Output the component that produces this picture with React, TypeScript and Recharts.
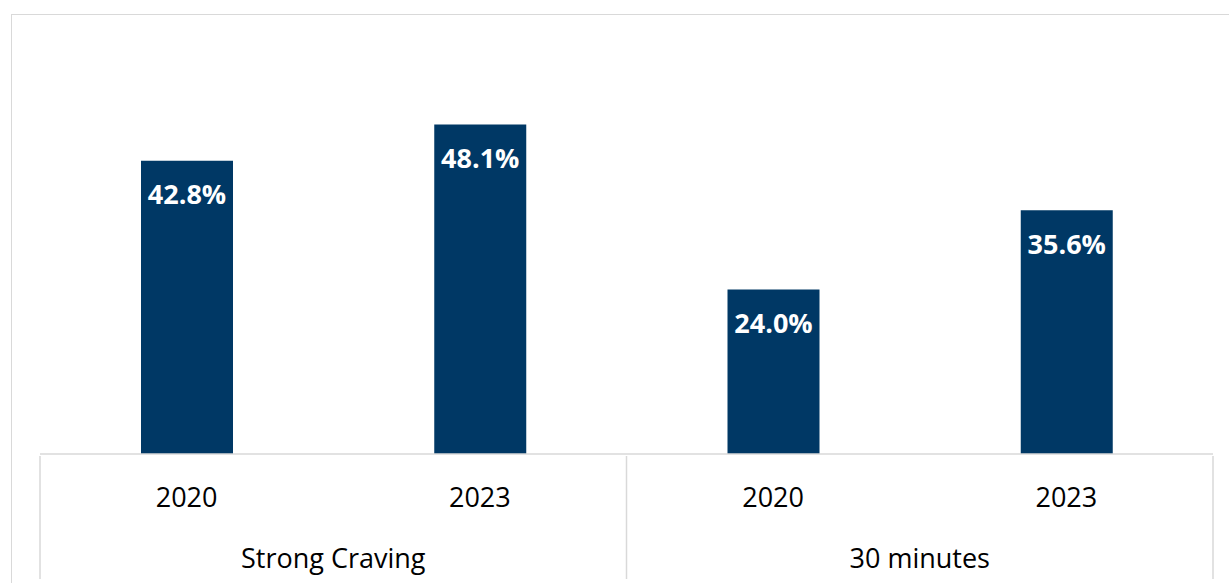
import { Bar, BarChart, LabelList, XAxis, YAxis } from "recharts";

const groups = ["Strong Craving", "Strong Craving", "30 minutes", "30 minutes"];
const years = ["2020", "2023", "2020", "2023"];
const shares = [42.8, 48.1, 24.0, 35.6];

const data = years.map((year, i) => ({ key: `${groups[i]}-${year}`, year, group: groups[i], share: shares[i] }));

const W = 1229;
const H = 583;
const axisHeight = 129;
const margin = { top: 43, right: 16, bottom: 0, left: 40 };
const band = (W - margin.left - margin.right) / data.length;
const gridColor = "#d9d9d9";
const font = "'Open Sans', sans-serif";

function YearTick(props: any) {
  const { x, y, payload } = props;
  const i = payload.index;
  const row = data[i];
  const left = x - band / 2;
  const isGroupStart = i === 0 || groups[i] !== groups[i - 1];
  const isLast = i === data.length - 1;
  return (
    <g>
      <text x={x} y={y + 40} textAnchor="middle" dominantBaseline="central" fontSize={27} fontFamily={font} fill="#000">
        {row.year}
      </text>
      {isGroupStart && <line x1={left} x2={left} y1={y} y2={y + 123} stroke={gridColor} strokeWidth={1.5} />}
      {isLast && <line x1={x + band / 2} x2={x + band / 2} y1={y} y2={y + 123} stroke={gridColor} strokeWidth={1.5} />}
      {isGroupStart && (
        <text x={x + band / 2} y={y + 101} textAnchor="middle" dominantBaseline="central" fontSize={27} fontFamily={font} fill="#000">
          {row.group}
        </text>
      )}
    </g>
  );
}

function ValueLabel(props: any) {
  const { x, y, width, value } = props;
  return (
    <text x={x + width / 2} y={y + 33} textAnchor="middle" dominantBaseline="central" fontSize={27} fontWeight={700} fontFamily={font} fill="#fff">
      {`${Number(value).toFixed(1)}%`}
    </text>
  );
}

export default function App() {
  return (
    <div style={{ position: "absolute", left: 0, top: 0, width: W, height: H, overflow: "hidden", background: "#fff" }}>
      <div style={{ position: "absolute", left: 11, top: 14, width: W + 20, height: H + 20, border: `1.5px solid ${gridColor}`, boxSizing: "border-box" }} />
      <BarChart width={W} height={H} data={data} margin={margin} barSize={92} style={{ position: "absolute", left: 0, top: 0 }}>
        <XAxis
          dataKey="key"
          interval={0}
          tickLine={false}
          tickSize={0}
          height={axisHeight}
          axisLine={{ stroke: gridColor, strokeWidth: 1.5 }}
          tick={<YearTick />}
        />
        <YAxis hide domain={[0, 60]} />
        <Bar dataKey="share" fill="#003865" isAnimationActive={false}>
          <LabelList dataKey="share" content={<ValueLabel />} />
        </Bar>
      </BarChart>
    </div>
  );
}
